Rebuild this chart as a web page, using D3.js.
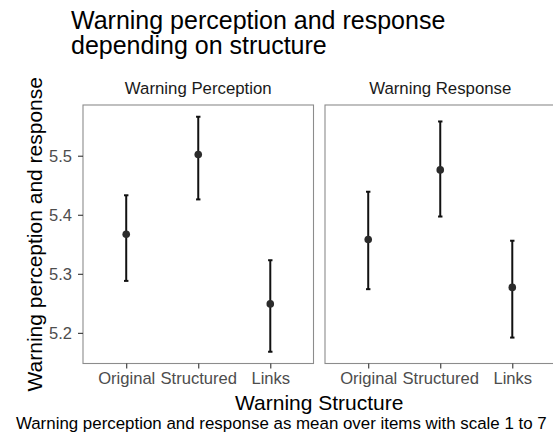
<!DOCTYPE html>
<html>
<head>
<meta charset="utf-8">
<script src="https://cdn.jsdelivr.net/npm/d3@7"></script>
<style>
  html, body { margin: 0; padding: 0; background: #fff; overflow: hidden; }
  svg { display: block; font-family: "Liberation Sans", Arial, Helvetica, sans-serif; }
</style>
</head>
<body>
<svg id="chart" width="553" height="443"></svg>
<script>
const categories = ["Original", "Structured", "Links"];
const panelNames = ["Warning Perception", "Warning Response"];
const perceptionMean  = [5.367, 5.502, 5.249];
const perceptionLower = [5.288, 5.426, 5.168];
const perceptionUpper = [5.433, 5.566, 5.323];
const responseMean  = [5.358, 5.476, 5.277];
const responseLower = [5.274, 5.397, 5.192];
const responseUpper = [5.439, 5.558, 5.356];
const yTicks = [5.2, 5.3, 5.4, 5.5];
const titleLines = ["Warning perception and response", "depending on structure"];
const xTitle = "Warning Structure";
const yTitle = "Warning perception and response";
const caption = "Warning perception and response as mean over items with scale 1 to 7";

const panelsData = [
  { name: panelNames[0], mean: perceptionMean, lower: perceptionLower, upper: perceptionUpper },
  { name: panelNames[1], mean: responseMean, lower: responseLower, upper: responseUpper }
];

const svg = d3.select("#chart");
const panelTop = 105, panelBottom = 363.5;
const panelX = [[83, 313.5], [325, 555.5]];

const allLow = d3.min(panelsData, p => d3.min(p.lower));
const allHigh = d3.max(panelsData, p => d3.max(p.upper));
const span = allHigh - allLow;
const y = d3.scaleLinear().domain([allLow - 0.05 * span, allHigh + 0.05 * span]).range([panelBottom, panelTop]);

// Title
const title = svg.append("text").attr("x", 71).attr("y", 28.5)
  .attr("font-size", 25).attr("fill", "#000");
titleLines.forEach((t, i) => title.append("tspan").attr("x", 71).attr("dy", i === 0 ? 0 : 25.5).text(t));

panelsData.forEach((p, pi) => {
  const [x0, x1] = panelX[pi];
  const x = d3.scalePoint().domain(categories).range([x0, x1]).padding(0.6);
  const g = svg.append("g");

  g.append("text").attr("x", (x0 + x1) / 2).attr("y", 94)
    .attr("text-anchor", "middle").attr("font-size", 16.8).attr("fill", "#1a1a1a").text(p.name);

  g.append("rect").attr("x", x0).attr("y", panelTop).attr("width", x1 - x0).attr("height", panelBottom - panelTop)
    .attr("fill", "none").attr("stroke", "#8c8c8c").attr("stroke-width", 1.1);

  const xAxis = g.append("g").attr("transform", `translate(0,${panelBottom})`)
    .call(d3.axisBottom(x).tickSize(5).tickPadding(5));
  xAxis.select(".domain").remove();
  xAxis.selectAll(".tick line").attr("stroke", "#333").attr("stroke-width", 1.1);
  xAxis.selectAll(".tick text").attr("font-size", 16.6).attr("fill", "#4d4d4d")
    .attr("font-family", "\"Liberation Sans\", Arial, sans-serif").attr("dy", "0.71em").attr("y", 8.5);

  if (pi === 0) {
    const yAxis = g.append("g").attr("transform", `translate(${x0},0)`)
      .call(d3.axisLeft(y).tickValues(yTicks).tickFormat(d3.format(".1f")).tickSize(5).tickPadding(5));
    yAxis.select(".domain").remove();
    yAxis.selectAll(".tick line").attr("stroke", "#333").attr("stroke-width", 1.1);
    yAxis.selectAll(".tick text").attr("font-size", 16.5).attr("fill", "#4d4d4d")
      .attr("font-family", "\"Liberation Sans\", Arial, sans-serif").attr("x", -11);
  }

  const rows = categories.map((c, i) => ({ c, m: p.mean[i], lo: p.lower[i], hi: p.upper[i] }));
  const capW = 2.2;
  g.selectAll(".err").data(rows).join("line")
    .attr("x1", d => x(d.c)).attr("x2", d => x(d.c))
    .attr("y1", d => y(d.lo)).attr("y2", d => y(d.hi))
    .attr("stroke", "#111").attr("stroke-width", 2);
  g.selectAll(".capTop").data(rows).join("line")
    .attr("x1", d => x(d.c) - capW).attr("x2", d => x(d.c) + capW)
    .attr("y1", d => y(d.hi)).attr("y2", d => y(d.hi))
    .attr("stroke", "#111").attr("stroke-width", 2);
  g.selectAll(".capBot").data(rows).join("line")
    .attr("x1", d => x(d.c) - capW).attr("x2", d => x(d.c) + capW)
    .attr("y1", d => y(d.lo)).attr("y2", d => y(d.lo))
    .attr("stroke", "#111").attr("stroke-width", 2);
  g.selectAll(".pt").data(rows).join("circle")
    .attr("cx", d => x(d.c)).attr("cy", d => y(d.m)).attr("r", 3.8)
    .attr("fill", "#2b2b2b");
});

svg.append("text").attr("x", (panelX[0][0] + panelX[1][1]) / 2).attr("y", 409.5)
  .attr("text-anchor", "middle").attr("font-size", 21).attr("fill", "#000").text(xTitle);
svg.append("text").attr("transform", `translate(41.5,${(panelTop + panelBottom) / 2}) rotate(-90)`)
  .attr("text-anchor", "middle").attr("font-size", 21).attr("fill", "#000").text(yTitle);

svg.append("text").attr("x", 546.7).attr("y", 428.5)
  .attr("text-anchor", "end").attr("font-size", 16.9).attr("fill", "#000").text(caption);
</script>
</body>
</html>
